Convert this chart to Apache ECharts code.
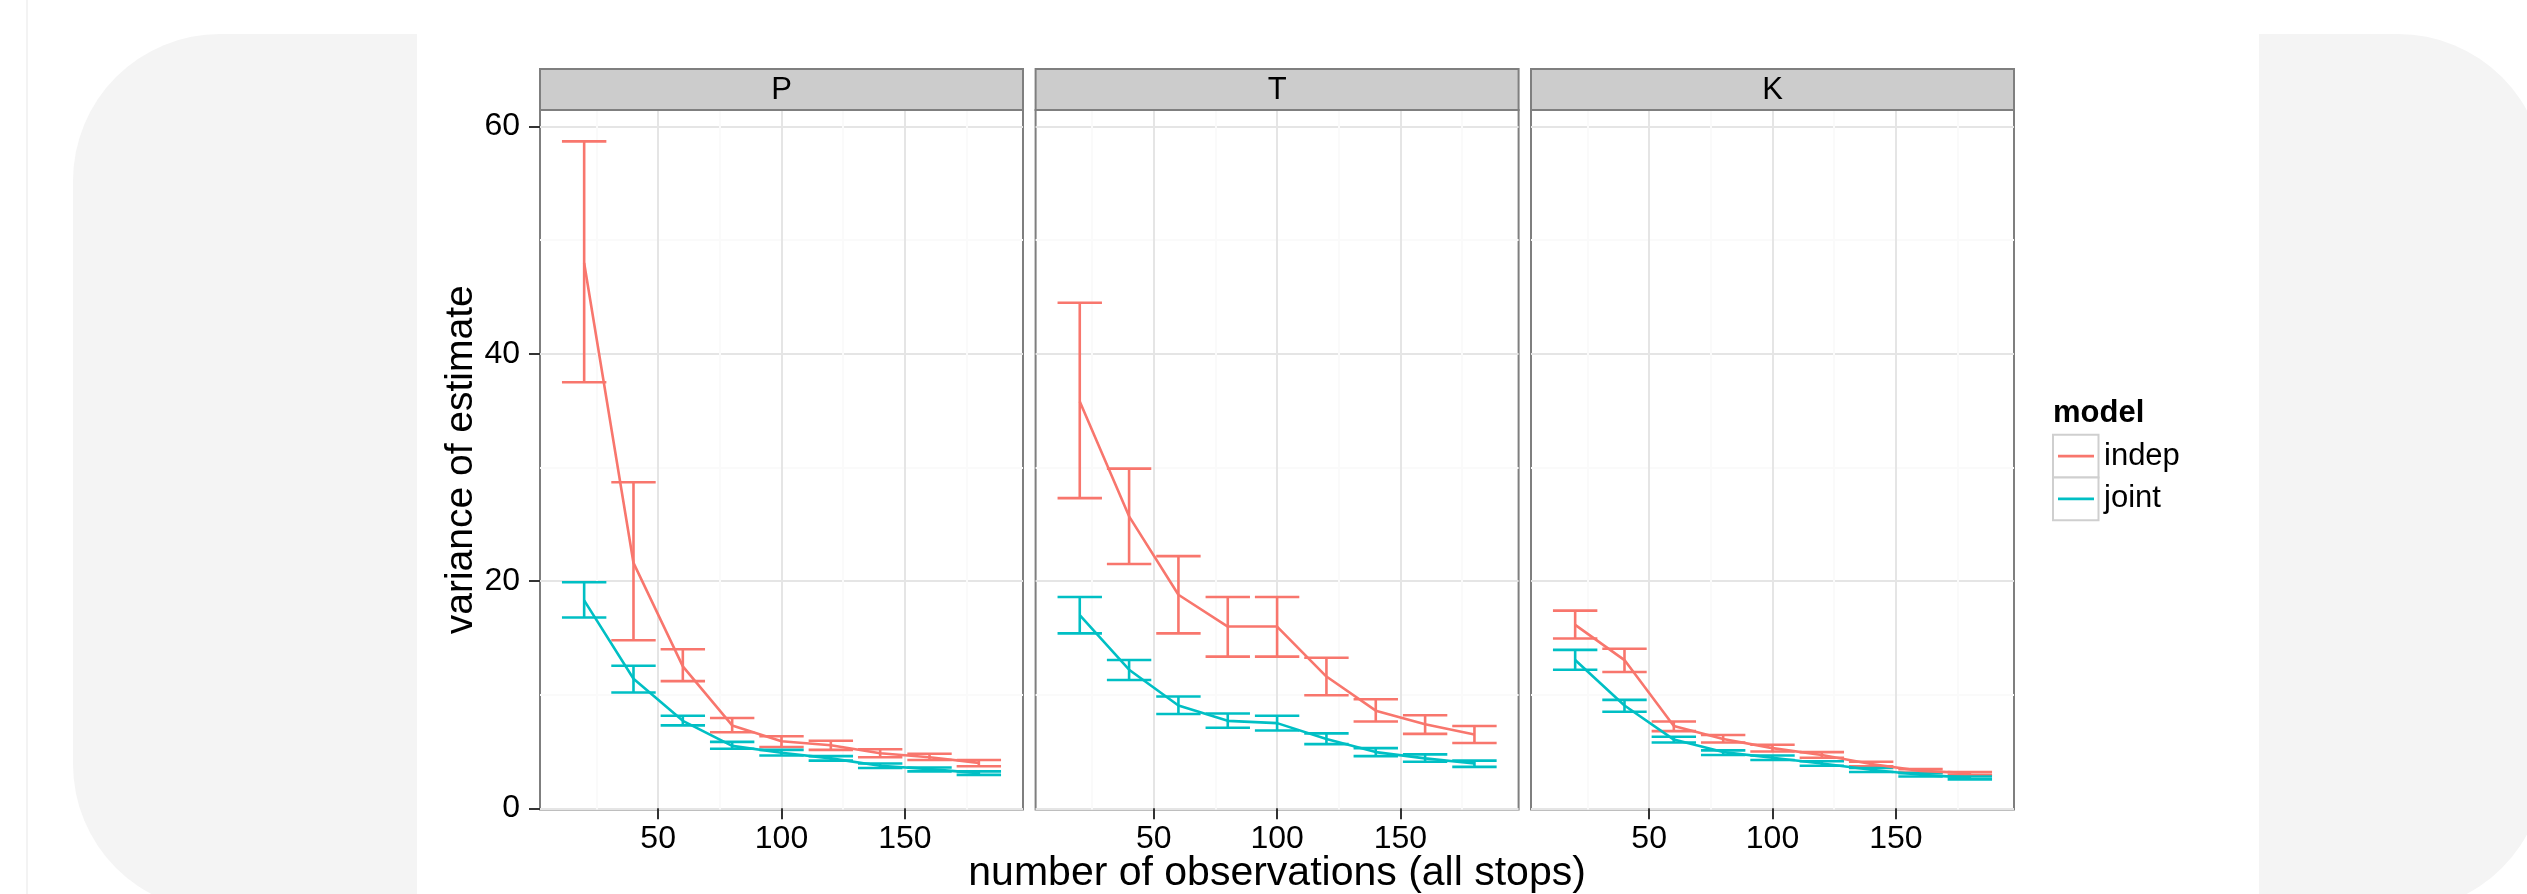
<!DOCTYPE html>
<html>
<head>
<meta charset="utf-8">
<script src="https://cdn.jsdelivr.net/npm/echarts@6/dist/echarts.min.js"></script>
<style>
html,body{margin:0;padding:0;background:#fff;}
#chart{width:2527px;height:894px;}
</style>
</head>
<body>
<div id="chart"></div>
<script>
// ---- data ----
const panels = ['P', 'T', 'K'];
const models = ['indep', 'joint'];
const xObs = [20, 40, 60, 80, 100, 120, 140, 160, 180];
const xTicks = [50, 100, 150];
const xMinorTicks = [25, 75, 125, 175];
const yTicks = [0, 20, 40, 60];
const yMinorTicks = [10, 30, 50];

const indepP_mean = [48.0, 21.6, 12.5, 7.3, 5.9, 5.55, 4.85, 4.5, 4.0];
const indepP_lo   = [37.5, 14.8, 11.2, 6.7, 5.4, 5.15, 4.5, 4.25, 3.7];
const indepP_hi   = [58.7, 28.7, 14.0, 7.95, 6.35, 5.95, 5.2, 4.8, 4.25];
const jointP_mean = [18.3, 11.4, 7.7, 5.5, 4.9, 4.4, 3.75, 3.45, 3.1];
const jointP_lo   = [16.8, 10.2, 7.3, 5.25, 4.65, 4.2, 3.55, 3.25, 2.95];
const jointP_hi   = [19.9, 12.55, 8.15, 5.85, 5.15, 4.6, 3.95, 3.6, 3.25];

const indepT_mean = [35.8, 25.7, 18.8, 16.0, 16.0, 11.6, 8.6, 7.4, 6.5];
const indepT_lo   = [27.3, 21.5, 15.4, 13.35, 13.35, 9.95, 7.65, 6.55, 5.75];
const indepT_hi   = [44.5, 29.9, 22.2, 18.6, 18.6, 13.25, 9.6, 8.2, 7.25];
const jointT_mean = [17.0, 12.2, 9.05, 7.7, 7.5, 6.1, 4.95, 4.4, 3.95];
const jointT_lo   = [15.4, 11.3, 8.3, 7.1, 6.85, 5.65, 4.6, 4.1, 3.65];
const jointT_hi   = [18.6, 13.05, 9.85, 8.35, 8.15, 6.6, 5.3, 4.75, 4.2];

const indepK_mean = [16.15, 13.05, 7.25, 6.1, 5.3, 4.7, 3.9, 3.3, 3.1];
const indepK_lo   = [14.95, 12.0, 6.8, 5.8, 5.0, 4.45, 3.7, 3.15, 2.95];
const indepK_hi   = [17.4, 14.05, 7.65, 6.45, 5.6, 4.95, 4.1, 3.45, 3.2];
const jointK_mean = [13.05, 9.05, 6.05, 4.95, 4.45, 3.95, 3.4, 2.95, 2.7];
const jointK_lo   = [12.2, 8.5, 5.8, 4.7, 4.25, 3.75, 3.2, 2.8, 2.55];
const jointK_hi   = [13.95, 9.55, 6.3, 5.1, 4.65, 4.15, 3.55, 3.1, 2.8];

const xTitle = 'number of observations (all stops)';
const yTitle = 'variance of estimate';
const legendTitle = 'model';

// ---- layout / style ----
const FONT = 'Liberation Sans, Arial, Helvetica, sans-serif';
const COLORS = { indep: '#F8766D', joint: '#00BFC4' };
const X_MIN = 2.1, X_MAX = 197.9;
const Y_MIN = -0.11, Y_MAX = 61.46;
const CAP_WIDTH = 18;
const PANEL_LEFT = [540, 1035.6, 1531];
const PANEL_W = 483;
const PANEL_TOP = 110;
const PANEL_H = 699.6;
const STRIP_TOP = 69;
const LINE_W = 2.6;

const seriesData = {
  P: { indep: [indepP_mean, indepP_lo, indepP_hi], joint: [jointP_mean, jointP_lo, jointP_hi] },
  T: { indep: [indepT_mean, indepT_lo, indepT_hi], joint: [jointT_mean, jointT_lo, jointT_hi] },
  K: { indep: [indepK_mean, indepK_lo, indepK_hi], joint: [jointK_mean, jointK_lo, jointK_hi] }
};

function errorbarItem(params, api) {
  const x = api.value(0), lo = api.value(1), hi = api.value(2);
  const pLo = api.coord([x, lo]);
  const pHi = api.coord([x, hi]);
  const half = api.size([CAP_WIDTH, 0])[0] / 2;
  const style = { stroke: api.visual('color'), lineWidth: LINE_W, fill: null };
  return {
    type: 'group',
    children: [
      { type: 'line', shape: { x1: pHi[0], y1: pHi[1], x2: pLo[0], y2: pLo[1] }, style: style },
      { type: 'line', shape: { x1: pHi[0] - half, y1: pHi[1], x2: pHi[0] + half, y2: pHi[1] }, style: style },
      { type: 'line', shape: { x1: pLo[0] - half, y1: pLo[1], x2: pLo[0] + half, y2: pLo[1] }, style: style }
    ]
  };
}

const grids = [], xAxes = [], yAxes = [], series = [], graphics = [];

// background decorations
graphics.push({ type: 'rect', z: -10, shape: { x: 73, y: 34, width: 344, height: 877, r: [147, 0, 0, 147] }, style: { fill: '#f4f4f4' } });
graphics.push({ type: 'rect', z: -10, shape: { x: 2259, y: 34, width: 286, height: 877, r: [0, 147, 147, 0] }, style: { fill: '#f4f4f4' } });
graphics.push({ type: 'line', z: -10, shape: { x1: 27, y1: 0, x2: 27, y2: 894 }, style: { stroke: '#efefef', lineWidth: 1.5 } });

panels.forEach(function (p, i) {
  grids.push({
    left: PANEL_LEFT[i], top: PANEL_TOP, width: PANEL_W, height: PANEL_H,
    outerBoundsMode: 'none', containLabel: false,
    show: true, backgroundColor: '#ffffff', borderColor: '#7f7f7f', borderWidth: 2
  });
  // major x axis
  xAxes.push({
    type: 'value', gridIndex: i, min: X_MIN, max: X_MAX, position: 'bottom',
    axisLine: { show: false },
    axisTick: { show: true, inside: false, length: 11, lineStyle: { color: '#333333', width: 2 }, customValues: xTicks },
    axisLabel: { show: true, customValues: xTicks, margin: 14, fontSize: 32, color: '#000', fontFamily: FONT },
    splitLine: { show: true, lineStyle: { color: '#e5e5e5', width: 2 } },
    name: i === 1 ? xTitle : '',
    nameLocation: 'middle', nameGap: 44, nameMoveOverlap: false,
    nameTextStyle: { fontSize: 41, color: '#000', fontFamily: FONT }
  });
  // minor x grid
  xAxes.push({
    type: 'value', gridIndex: i, min: X_MIN, max: X_MAX, position: 'top',
    axisLine: { show: false },
    axisTick: { show: false, customValues: xMinorTicks },
    axisLabel: { show: false },
    splitLine: { show: true, lineStyle: { color: '#fafafa', width: 2 } }
  });
  // major y axis
  yAxes.push({
    type: 'value', gridIndex: i, min: Y_MIN, max: Y_MAX, position: 'left',
    axisLine: { show: false },
    axisTick: { show: i === 0, inside: false, length: 11, lineStyle: { color: '#333333', width: 2 }, customValues: yTicks },
    axisLabel: { show: i === 0, customValues: yTicks, margin: 20, fontSize: 32, color: '#000', fontFamily: FONT },
    splitLine: { show: true, lineStyle: { color: '#e5e5e5', width: 2 } },
    name: i === 0 ? yTitle : '',
    nameLocation: 'middle', nameGap: 53, nameRotate: 90,
    nameTextStyle: { fontSize: 39, color: '#000', fontFamily: FONT }
  });
  // minor y grid
  yAxes.push({
    type: 'value', gridIndex: i, min: Y_MIN, max: Y_MAX, position: 'right',
    axisLine: { show: false },
    axisTick: { show: false, customValues: yMinorTicks },
    axisLabel: { show: false },
    splitLine: { show: true, lineStyle: { color: '#fafafa', width: 2 } }
  });

  // strip
  graphics.push({
    type: 'rect', z: 5,
    shape: { x: PANEL_LEFT[i], y: STRIP_TOP, width: PANEL_W, height: PANEL_TOP - STRIP_TOP },
    style: { fill: '#cccccc', stroke: '#7f7f7f', lineWidth: 2 }
  });
  graphics.push({
    type: 'text', z: 6,
    x: PANEL_LEFT[i] + PANEL_W / 2, y: (STRIP_TOP + PANEL_TOP) / 2 + 1,
    style: { text: p, fontSize: 31, fontFamily: FONT, fill: '#000', align: 'center', verticalAlign: 'middle' }
  });

  // error bars
  models.forEach(function (m) {
    const d = seriesData[p][m];
    series.push({
      type: 'custom', name: m, xAxisIndex: 2 * i, yAxisIndex: 2 * i,
      renderItem: errorbarItem,
      encode: { x: 0, y: [1, 2] },
      itemStyle: { color: COLORS[m] },
      z: 3,
      data: xObs.map(function (x, k) { return [x, d[1][k], d[2][k]]; })
    });
  });
  // mean lines
  models.forEach(function (m) {
    const d = seriesData[p][m];
    series.push({
      type: 'line', name: m, xAxisIndex: 2 * i, yAxisIndex: 2 * i,
      showSymbol: false, symbol: 'none',
      lineStyle: { color: COLORS[m], width: LINE_W },
      itemStyle: { color: COLORS[m] },
      z: 4,
      data: xObs.map(function (x, k) { return [x, d[0][k]]; })
    });
  });
});

// legend key boxes
models.forEach(function (m, k) {
  graphics.push({
    type: 'rect', z: 1,
    shape: { x: 2053, y: 434.8 + k * 42.7, width: 45.5, height: 42.7 },
    style: { fill: '#ffffff', stroke: '#cfcfcf', lineWidth: 2 }
  });
});

const option = {
  animation: false,
  backgroundColor: '#ffffff',
  title: {
    text: legendTitle, left: 2053, top: 398, padding: 0,
    textStyle: { fontSize: 31, fontWeight: 'bold', color: '#000', fontFamily: FONT }
  },
  legend: {
    data: models, orient: 'vertical', left: 2058, top: 434.8, padding: 0,
    itemGap: 0, itemWidth: 36, itemHeight: 2.6, icon: 'rect',
    selectedMode: false,
    textStyle: { fontSize: 31, lineHeight: 42.7, color: '#000', fontFamily: FONT, padding: [0, 0, 0, 5] }
  },
  grid: grids,
  xAxis: xAxes,
  yAxis: yAxes,
  series: series,
  graphic: { elements: graphics }
};

const chart = echarts.init(document.getElementById('chart'), null, { renderer: 'canvas' });
chart.setOption(option);
</script>
</body>
</html>
